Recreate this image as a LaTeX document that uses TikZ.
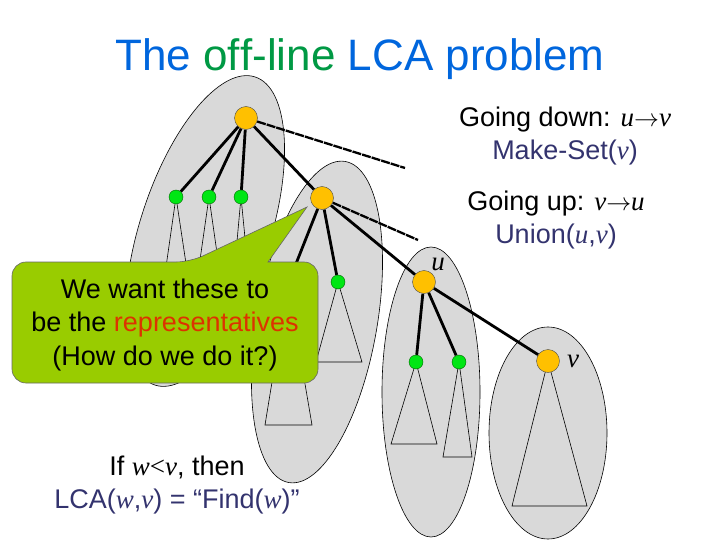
\documentclass[tikz,border=0pt]{standalone}
\usepackage{fontspec}
\setmainfont{Liberation Sans}[Ligatures=NoCommon]
\newfontfamily\tms{Liberation Serif}
\usetikzlibrary{backgrounds}

\definecolor{titleblue}{RGB}{0,102,221}
\definecolor{titlegreen}{RGB}{0,153,68}
\definecolor{opblue}{RGB}{51,51,110}
\definecolor{repred}{RGB}{221,51,0}
\definecolor{calloutgreen}{RGB}{153,204,0}
\definecolor{setgray}{RGB}{217,217,217}
\definecolor{rootorange}{RGB}{255,192,0}
\definecolor{leafgreen}{RGB}{0,230,20}

\newcommand{\var}[1]{{\tms\itshape #1}}
\newcommand{\goesto}{\ensuremath{\rightarrow}}

\tikzset{
  rootnode/.style={circle, fill=rootorange, draw=black!70, inner sep=0pt, minimum size=23pt},
  leafnode/.style={circle, fill=leafgreen, draw=black!60!green, inner sep=0pt, minimum size=14pt},
  setshape/.style={fill=setgray, draw=black, line width=0.6pt},
  subtree/.style={draw=black, line width=0.6pt},
  treeedge/.style={draw=black, line width=2.8pt},
  openedge/.style={draw=black, line width=2.3pt, dash pattern=on 9pt off 1pt},
  textline/.style={font=\fontsize{27}{33.5}\selectfont, align=center},
  callout/.style={fill=calloutgreen, draw=black!60, line width=0.6pt},
}

\begin{document}
\begin{tikzpicture}[x=1pt, y=-1pt]
\useasboundingbox (0,0) rectangle (720,540);
\clip (0,0) rectangle (720,540);

% Title
\node[font=\fontsize{44}{52}\selectfont, text=titleblue] (title) at (360,59)
  {The \textcolor{titlegreen}{of\kern0pt f-line} LCA problem};

% Tree nodes
\node[rootnode] (root) at (246,118) {};
\node[leafnode] (g1) at (176,197) {};
\node[leafnode] (g2) at (209,197) {};
\node[leafnode] (g3) at (241,197) {};
\node[rootnode] (mid) at (322,198) {};
\node[leafnode] (h) at (288,284) {};
\node[leafnode] (g4) at (338,282) {};
\node[rootnode] (u) at (424,282) {};
\node[leafnode] (ua) at (416,362) {};
\node[leafnode] (ub) at (459,362) {};
\node[rootnode] (v) at (548,361) {};
\coordinate (rootend) at (405,168);
\coordinate (midend) at (418,240);

\node[font=\fontsize{27}{30}\selectfont] (ulabel) at (438,264) {\var{u}};
\node[font=\fontsize{27}{30}\selectfont] (vlabel) at (573,361) {\var{v}};

\begin{pgfonlayer}{background}
% Sets
\draw[setshape, shift={(205,231)}, rotate=72] (0,0) ellipse [x radius=162, y radius=65];
\draw[setshape, shift={(317,322)}, rotate=80] (0,0) ellipse [x radius=163, y radius=60];
\draw[setshape] (431,392) ellipse [x radius=49, y radius=145];
\draw[setshape] (548,433) ellipse [x radius=59, y radius=106];

% Subtrees
\draw[subtree] (g1.center) -- (157,330) -- (196,330) -- cycle;
\draw[subtree] (g2.center) -- (190,330) -- (228,330) -- cycle;
\draw[subtree] (g3.center) -- (229,330) -- (254,330) -- cycle;
\draw[subtree] (h.center) -- (265,425) -- (312,425) -- cycle;
\draw[subtree] (g4.center) -- (316,362) -- (362,362) -- cycle;
\draw[subtree] (ua.center) -- (391,444) -- (437,444) -- cycle;
\draw[subtree] (ub.center) -- (443,457) -- (472,457) -- cycle;
\draw[subtree] (v.center) -- (512,506) -- (587,506) -- cycle;

% Edges
\foreach \child in {g1, g2, g3, mid}
  \draw[treeedge] (root) -- (\child);
\foreach \child in {h, g4, u}
  \draw[treeedge] (mid) -- (\child);
\foreach \child in {ua, ub, v}
  \draw[treeedge] (u) -- (\child);
\draw[openedge] (root) -- (rootend);
\draw[openedge] (mid) -- (midend);
\end{pgfonlayer}

% Operations
\node[textline] (down) at (565,136)
  {Going down: \var{u}\goesto\var{v}\\ \textcolor{opblue}{Make-Set(\var{v})}};
\node[textline] (up) at (556,220)
  {Going up: \var{v}\goesto\var{u}\\ \textcolor{opblue}{Union(\var{u},\var{v})}};

% Callout
\draw[callout] (12,322) [rounded corners=14pt] |- (190,262) [sharp corners] -- (307,207)
  -- (268,262) [rounded corners=14pt] -| (318,322) |- (12,383) -- cycle;
\node[textline] (note) at (165,325)
  {We want these to\\ be the \textcolor{repred}{representatives}\\ (How do we do it?)};

% LCA rule
\node[textline] (rule) at (177,485)
  {If \var{w}{\tms<}\var{v}, then\\ \textcolor{opblue}{LCA(\var{w},\var{v}) = “Find(\var{w})”}};
\end{tikzpicture}
\end{document}
